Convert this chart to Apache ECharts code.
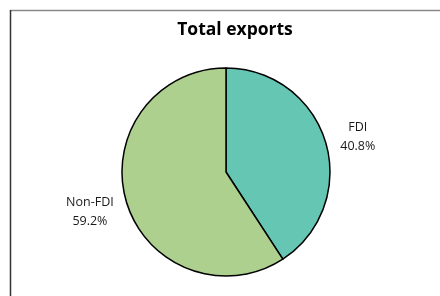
<!DOCTYPE html>
<html>
<head>
<meta charset="utf-8">
<script src="https://cdn.jsdelivr.net/npm/echarts@6/dist/echarts.min.js"></script>
<style>
  html, body { margin: 0; padding: 0; background: #fff; }
  #chart { width: 440px; height: 296px; }
</style>
</head>
<body>
<div id="chart"></div>
<script>
// chart data
var titleText = 'Total exports'
var categories = ['FDI', 'Non-FDI']
var shares = [40.8, 59.2]
var sliceColors = ['#65C6B4', '#ADD08F']

var chart = echarts.init(document.getElementById('chart'))

var pieData = categories.map(function (name, i) {
  return { name: name, value: shares[i], itemStyle: { color: sliceColors[i] } }
})

var option = {
  animation: false,
  title: {
    text: titleText,
    left: 230,
    textAlign: 'center',
    top: 16,
    textStyle: {
      fontFamily: 'Open Sans',
      fontWeight: 'bold',
      fontSize: 17.5,
      color: '#000'
    }
  },
  graphic: [
    {
      type: 'line',
      shape: { x1: 10, y1: 10.5, x2: 440, y2: 10.5 },
      style: { stroke: '#8a8a8a', lineWidth: 1.5 }
    },
    {
      type: 'line',
      shape: { x1: 10.5, y1: 10, x2: 10.5, y2: 296 },
      style: { stroke: '#333', lineWidth: 1.5 }
    }
  ],
  series: [
    {
      type: 'pie',
      center: [226, 172],
      radius: 104,
      startAngle: 90,
      clockwise: true,
      data: pieData,
      itemStyle: {
        borderColor: '#000',
        borderWidth: 1.5
      },
      label: {
        show: true,
        position: 'outside',
        formatter: function (p) {
          return p.name + '\n' + p.value.toFixed(1) + '%'
        },
        fontFamily: 'Open Sans',
        fontSize: 12.5,
        lineHeight: 19,
        color: '#1a1a1a'
      },
      labelLine: { show: false, length: 10, length2: 0 },
      labelLayout: function (params) {
        // center the label text around its anchor
        var r = params.labelRect
        var left = params.dataIndex === 0
        return {
          align: 'center',
          dx: left ? r.width / 2 : -r.width / 2 + 2,
          dy: left ? -3 : 7
        }
      },
      emphasis: { disabled: true }
    }
  ]
}

chart.setOption(option)
</script>
</body>
</html>
